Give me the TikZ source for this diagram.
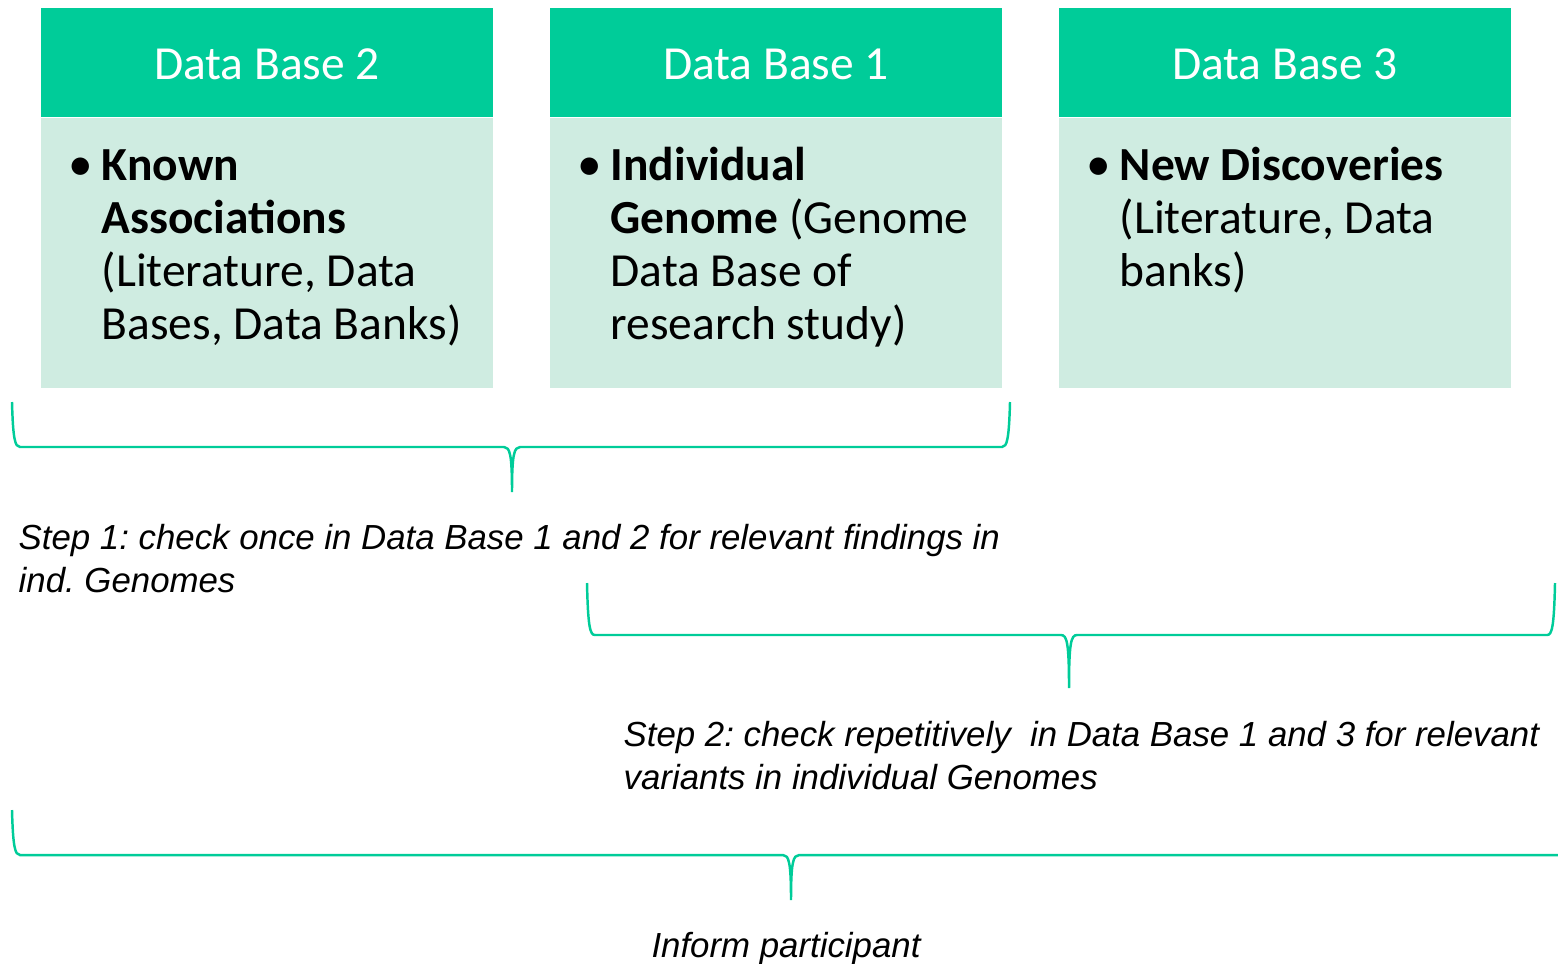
\documentclass[tikz,border=0pt]{standalone}
\usepackage{fontspec}
\setmainfont{Carlito}
\newfontfamily\arialfont{Liberation Sans}
\usetikzlibrary{positioning}
\frenchspacing
\definecolor{dbgreen}{RGB}{0,204,153}
\definecolor{dbmint}{RGB}{207,236,225}
\def\stepbrace[#1](#2:#3:#4)(#5:#6:#7){\draw[#1] (#2,#5) .. controls (#2+1,#6-8) and (#2+3,#6) .. (#2+8,#6) -- (#3-8,#6) .. controls (#3-2,#6) and (#3,#6+8) .. (#3,#7) .. controls (#3,#6+8) and (#3+2,#6) .. (#3+8,#6) -- (#4-8,#6) .. controls (#4-3,#6) and (#4-1,#6-8) .. (#4,#5);}
\tikzset{
	dbhead/.style={fill=dbgreen, minimum width=4.52cm, minimum height=1.09cm, inner sep=0pt, text height=9.4pt, text depth=0pt, text=white, font=\fontsize{13.5}{15}\selectfont},
	dbbody/.style={fill=dbmint, minimum width=4.52cm, minimum height=2.69cm, inner sep=0pt},
	dbdot/.style={anchor=base west, inner sep=0pt, font=\fontsize{14}{15}\selectfont},
	dbtext/.style={anchor=base west, inner sep=0pt, align=left, font=\fontsize{13.5}{15}\selectfont},
	steptext/.style={anchor=base west, inner sep=0pt, align=left, font=\arialfont\itshape\fontsize{9.9}{12}\selectfont},
	stepline/.style={dbgreen, line width=0.7pt}
}

\begin{document}
\begin{tikzpicture}[x=0.01cm, y=-0.01cm]
			%%%%% START %%%%%
			
			\clip (0, 0) rectangle (1558, 963);
			
			% the three data bases (text nodes sit on the baseline of their last line)
			\node[dbhead] (head2) at (267, 62.5) {Data Base 2};
			\node[dbbody, below=0pt of head2] (body2) {};
			\node[dbdot] (dot2) at (68, 180) {•};
			\node[dbtext] (text2) at (101, 339) {\textbf{Known}\\\textbf{Associations}\\(Literature, Data\\Bases, Data Banks)};
			
			\node[dbhead] (head1) at (776, 62.5) {Data Base 1};
			\node[dbbody, below=0pt of head1] (body1) {};
			\node[dbdot] (dot1) at (577, 180) {•};
			\node[dbtext] (text1) at (610, 339) {\textbf{Individual}\\\textbf{Genome} (Genome\\Data Base of\\research study)};
			
			\node[dbhead] (head3) at (1285, 62.5) {Data Base 3};
			\node[dbbody, below=0pt of head3] (body3) {};
			\node[dbdot] (dot3) at (1086, 180) {•};
			\node[dbtext] (text3) at (1119, 286) {\textbf{New Discoveries}\\(Literature, Data\\banks)};
			
			% the steps
			\stepbrace[stepline](12:512:1010)(402:447:492);
			\node[steptext] (step1) at (18, 592) {Step 1: check once in Data Base 1 and 2 for relevant findings in\\ind. Genomes};
			
			\stepbrace[stepline](587:1069:1555)(583:635:688);
			\node[steptext] (step2) at (623, 789) {Step 2: check repetitively~ in Data Base 1 and 3 for relevant\\variants in individual Genomes};
			
			\stepbrace[stepline](12:791:1620)(810:855:900);
			\node[steptext, anchor=base] (inform) at (786, 957) {Inform participant};
			
			%%%%% END %%%%%
		\end{tikzpicture}
\end{document}
